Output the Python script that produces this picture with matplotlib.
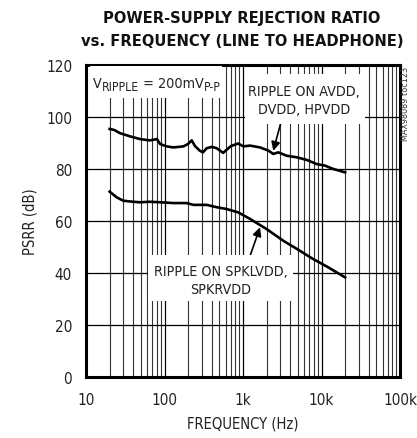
import matplotlib
matplotlib.use("Agg")
import matplotlib.pyplot as plt
from matplotlib.ticker import FixedLocator, NullFormatter
from matplotlib import font_manager
from matplotlib.font_manager import FontProperties
from matplotlib.patches import Rectangle

# Data
freq_top = [20, 23, 27, 36, 49, 65, 80, 88, 107, 130, 174, 199, 222, 245, 283, 309, 345,
            399, 462, 558, 700, 867, 1009, 1228, 1647, 2101, 2430, 2818, 3606, 4834, 6478,
            8685, 11090, 14140, 20000]
psrr_top = [95.4, 95.0, 93.8, 92.6, 91.5, 91.0, 91.5, 89.6, 88.7, 88.3, 88.7, 89.6, 91.0,
            88.8, 87.0, 86.4, 88.0, 88.5, 88.0, 86.2, 88.8, 89.8, 88.7, 89.0, 88.3, 87.1,
            85.8, 86.4, 85.1, 84.5, 83.5, 81.9, 81.3, 80.0, 78.7]
freq_bot = [20, 24.6, 29.8, 40, 49, 65, 88, 130, 192, 233, 345, 462, 620, 871, 1228, 2000,
            3260, 4900, 7800, 12000, 20000]
psrr_bot = [71.3, 69.1, 67.8, 67.4, 67.2, 67.4, 67.2, 66.9, 66.9, 66.2, 66.2, 65.3, 64.6,
            63.3, 60.8, 56.9, 52.4, 49.2, 45.4, 42.3, 38.3]

x_ticks = [10, 100, 1000, 10000, 100000]
x_ticklabels = ['10', '100', '1k', '10k', '100k']
y_ticks = [0, 20, 40, 60, 80, 100, 120]


def _is_bold(w):
    if isinstance(w, str):
        return w.lower() in ('bold', 'heavy', 'black', 'extra bold', 'semibold', 'demibold')
    return w >= 600


def _is_regular(w):
    if isinstance(w, str):
        return w.lower() in ('normal', 'regular', 'book', 'roman')
    return w == 400


def _stretch_val(s):
    if isinstance(s, (int, float)):
        return s
    return {'ultra-condensed': 100, 'extra-condensed': 200, 'condensed': 300,
            'semi-condensed': 400, 'normal': 500}.get(s, 500)


def find_font(bold):
    prefs = ['Liberation Sans Narrow', 'DejaVu Sans', 'Noto Sans', 'Open Sans', 'Roboto',
             'Liberation Sans']
    for fam in prefs:
        cands = []
        for f in font_manager.fontManager.ttflist:
            if f.name != fam or f.style != 'normal':
                continue
            if bold and not _is_bold(f.weight):
                continue
            if not bold and not _is_regular(f.weight):
                continue
            sv = _stretch_val(f.stretch)
            if fam in ('Liberation Sans Narrow', 'Liberation Sans') or sv < 500:
                cands.append((abs(sv - 300), f))
        if cands:
            cands.sort(key=lambda c: c[0])
            return FontProperties(fname=cands[0][1].fname)
    return FontProperties(family='DejaVu Sans', weight='bold' if bold else 'normal')


fp_reg = find_font(False)
fp_bold = find_font(True)

TXT = '#222222'
FS_T = 11.0    # tick labels
FS_A = 10.6    # axis labels
FS_N = 10.3    # annotations

fig = plt.figure(figsize=(4.17, 4.39), dpi=100)
W, H = 417, 439


def fx(px):
    return px / W


def fy(py):
    return 1 - py / H


def white_rect(x0, y0, x1, y1):
    fig.add_artist(Rectangle((fx(x0), fy(y1)), fx(x1) - fx(x0), fy(y0) - fy(y1),
                             transform=fig.transFigure, facecolor='white',
                             edgecolor='none', zorder=2.5))


ax = fig.add_axes([fx(86), fy(378), fx(400) - fx(86), fy(66) - fy(378)])
ax.set_xscale('log')
ax.set_xlim(10, 100000)
ax.set_ylim(0, 120)

minor = [m * 10 ** e for e in range(1, 5) for m in range(2, 10)]
ax.xaxis.set_minor_locator(FixedLocator(minor))
ax.xaxis.set_minor_formatter(NullFormatter())
ax.set_xticks(x_ticks)
ax.set_xticklabels(x_ticklabels)
ax.set_yticks(y_ticks)
ax.set_yticklabels([str(v) for v in y_ticks])
ax.grid(True, which='minor', axis='x', color='#333333', lw=0.8)
ax.grid(True, which='major', axis='x', color='black', lw=0.9)
ax.grid(True, which='major', axis='y', color='black', lw=0.9)
ax.tick_params(which='both', length=0, colors=TXT)
ax.tick_params(axis='x', pad=11)
ax.tick_params(axis='y', pad=10)
for lab in ax.get_xticklabels() + ax.get_yticklabels():
    lab.set_fontproperties(fp_reg)
    lab.set_fontsize(FS_T)
for s in ax.spines.values():
    s.set_linewidth(2.2)
    s.set_zorder(5)

ax.plot(freq_top, psrr_top, color='black', lw=1.9, zorder=3, solid_joinstyle='round')
ax.plot(freq_bot, psrr_bot, color='black', lw=1.9, zorder=3, solid_joinstyle='round')

ax.set_xlabel('FREQUENCY (Hz)', fontproperties=fp_reg, fontsize=FS_A, labelpad=6, color=TXT)
ax.set_ylabel('PSRR (dB)', fontproperties=fp_reg, fontsize=FS_A, labelpad=6, color=TXT)

arrow = dict(arrowstyle='-|>', color='black', lw=1.2, mutation_scale=13, shrinkA=0, shrinkB=0)
ax.annotate('', xy=(2430, 87.0), xytext=(3110, 99), arrowprops=arrow, zorder=3.5)
ax.annotate('', xy=(1648, 57.6), xytext=(1150, 44), arrowprops=arrow, zorder=3.5)

# white label boxes (cover grid)
white_rect(245, 75, 365, 125)
white_rect(148, 256, 293, 302)
white_rect(90, 67, 222, 99)

fig.text(fx(304), fy(101), 'RIPPLE ON AVDD,\nDVDD, HPVDD', fontproperties=fp_reg,
         fontsize=FS_N, ha='center', va='center', color=TXT, linespacing=1.35, zorder=6)
fig.text(fx(221), fy(281), 'RIPPLE ON SPKLVDD,\nSPKRVDD', fontproperties=fp_reg,
         fontsize=FS_N, ha='center', va='center', color=TXT, linespacing=1.35, zorder=6)

# V_RIPPLE = 200mV_P-P built from pieces
fig.canvas.draw()
rend = fig.canvas.get_renderer()
pieces = [('V', FS_N, 0), ('RIPPLE', FS_N * 0.85, -2.4), (' = 200mV', FS_N, 0),
          ('P-P', FS_N * 0.85, -2.4)]
x_px = 93.0
base_y = H - 88.3
for s, fs, dy in pieces:
    t = fig.text(x_px / W, (base_y + dy) / H, s, fontproperties=fp_reg, fontsize=fs,
                 ha='left', va='baseline', color=TXT, zorder=6)
    bb = t.get_window_extent(rend)
    x_px += bb.width

fig.text(fx(242), fy(19), 'POWER-SUPPLY REJECTION RATIO', fontproperties=fp_bold,
         fontsize=11.8, ha='center', va='center', color='#111111')
fig.text(fx(242), fy(42), 'vs. FREQUENCY (LINE TO HEADPHONE)', fontproperties=fp_bold,
         fontsize=11.8, ha='center', va='center', color='#111111')
fig.text(fx(406), fy(67), 'MAX98089 toc123', fontproperties=fp_reg, fontsize=6.5,
         rotation=90, ha='center', va='top', color='#333333')

fig.savefig('out.png', dpi=100)
